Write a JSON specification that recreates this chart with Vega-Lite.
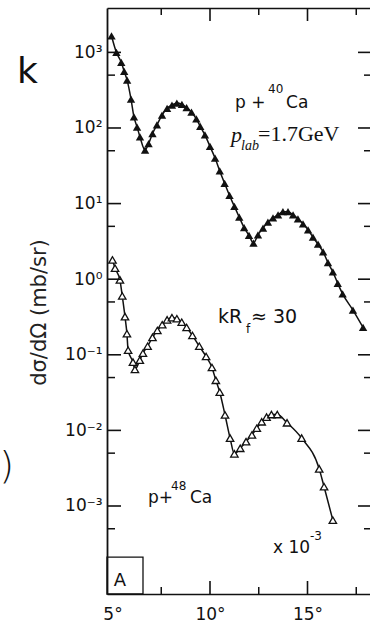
{
  "$schema": "https://vega.github.io/schema/vega-lite/v6.json",
  "width": 263,
  "height": 586,
  "autosize": "none",
  "padding": {"left": 107, "top": 8, "right": 0, "bottom": 31},
  "background": "white",
  "config": {"view": {"stroke": null}, "axis": {"grid": false}},
  "datasets": {
    "ca40": [
      {"angle": 4.95, "xs": 1650}, {"angle": 5.2, "xs": 1000}, {"angle": 5.45, "xs": 740}, {"angle": 5.6, "xs": 560},
      {"angle": 5.75, "xs": 430}, {"angle": 5.95, "xs": 240}, {"angle": 6.1, "xs": 140}, {"angle": 6.26, "xs": 103},
      {"angle": 6.41, "xs": 76}, {"angle": 6.67, "xs": 51}, {"angle": 6.85, "xs": 62}, {"angle": 7.05, "xs": 84},
      {"angle": 7.28, "xs": 110}, {"angle": 7.54, "xs": 148}, {"angle": 7.8, "xs": 182}, {"angle": 8.05, "xs": 200},
      {"angle": 8.3, "xs": 214}, {"angle": 8.56, "xs": 205}, {"angle": 8.8, "xs": 186}, {"angle": 9.05, "xs": 162},
      {"angle": 9.3, "xs": 132}, {"angle": 9.5, "xs": 105}, {"angle": 9.74, "xs": 81}, {"angle": 10.0, "xs": 57},
      {"angle": 10.26, "xs": 40}, {"angle": 10.5, "xs": 27}, {"angle": 10.75, "xs": 18.5}, {"angle": 11.0, "xs": 12.8},
      {"angle": 11.25, "xs": 9.2}, {"angle": 11.5, "xs": 6.6}, {"angle": 11.75, "xs": 4.8}, {"angle": 12.0, "xs": 3.8},
      {"angle": 12.23, "xs": 3.0}, {"angle": 12.46, "xs": 3.85}, {"angle": 12.72, "xs": 4.75}, {"angle": 12.97, "xs": 5.7},
      {"angle": 13.23, "xs": 6.45}, {"angle": 13.49, "xs": 7.1}, {"angle": 13.74, "xs": 7.8}, {"angle": 14.0, "xs": 7.8},
      {"angle": 14.26, "xs": 7.1}, {"angle": 14.51, "xs": 6.3}, {"angle": 14.77, "xs": 5.4}, {"angle": 15.03, "xs": 4.5},
      {"angle": 15.28, "xs": 3.6}, {"angle": 15.54, "xs": 2.9}, {"angle": 15.8, "xs": 2.3}, {"angle": 16.05, "xs": 1.65},
      {"angle": 16.3, "xs": 1.25}, {"angle": 16.55, "xs": 0.88}, {"angle": 16.8, "xs": 0.64}, {"angle": 17.33, "xs": 0.39},
      {"angle": 17.85, "xs": 0.23}
    ],
    "ca48": [
      {"angle": 5.0, "xs": 1.8}, {"angle": 5.13, "xs": 1.4}, {"angle": 5.38, "xs": 0.98}, {"angle": 5.5, "xs": 0.6},
      {"angle": 5.64, "xs": 0.32}, {"angle": 5.74, "xs": 0.19}, {"angle": 5.8, "xs": 0.115}, {"angle": 6.05, "xs": 0.08},
      {"angle": 6.15, "xs": 0.064}, {"angle": 6.4, "xs": 0.085}, {"angle": 6.56, "xs": 0.105}, {"angle": 6.8, "xs": 0.13},
      {"angle": 7.05, "xs": 0.17}, {"angle": 7.3, "xs": 0.21}, {"angle": 7.55, "xs": 0.25}, {"angle": 7.8, "xs": 0.29},
      {"angle": 8.05, "xs": 0.31}, {"angle": 8.3, "xs": 0.3}, {"angle": 8.55, "xs": 0.27}, {"angle": 8.8, "xs": 0.23},
      {"angle": 9.1, "xs": 0.18}, {"angle": 9.45, "xs": 0.13}, {"angle": 9.8, "xs": 0.095}, {"angle": 10.1, "xs": 0.068},
      {"angle": 10.3, "xs": 0.046}, {"angle": 10.5, "xs": 0.032}, {"angle": 10.77, "xs": 0.016}, {"angle": 11.03, "xs": 0.0079},
      {"angle": 11.25, "xs": 0.0049}, {"angle": 11.55, "xs": 0.0058}, {"angle": 11.85, "xs": 0.0071}, {"angle": 12.15, "xs": 0.0087},
      {"angle": 12.4, "xs": 0.0107}, {"angle": 12.65, "xs": 0.013}, {"angle": 12.9, "xs": 0.015}, {"angle": 13.15, "xs": 0.0162},
      {"angle": 13.45, "xs": 0.0162}, {"angle": 13.95, "xs": 0.0126}, {"angle": 14.7, "xs": 0.0079}, {"angle": 15.6, "xs": 0.0031},
      {"angle": 15.85, "xs": 0.0018}, {"angle": 16.3, "xs": 0.00065}
    ],
    "yticks": [
      {"v": 0.0005, "major": false}, {"v": 0.001, "major": true}, {"v": 0.005, "major": false}, {"v": 0.01, "major": true},
      {"v": 0.05, "major": false}, {"v": 0.1, "major": true}, {"v": 0.5, "major": false}, {"v": 1, "major": true},
      {"v": 5, "major": false}, {"v": 10, "major": true}, {"v": 50, "major": false}, {"v": 100, "major": true},
      {"v": 500, "major": false}, {"v": 1000, "major": true}
    ],
    "xticks": [
      {"v": 7.5, "major": false}, {"v": 10, "major": true}, {"v": 12.5, "major": false}, {"v": 15, "major": true}, {"v": 17.5, "major": false}
    ]
  },
  "resolve": {"axis": {"x": "independent", "y": "independent"}},
  "layer": [
    {
      "data": {"name": "ca40"},
      "mark": {"type": "line", "color": "#111", "strokeWidth": 1.5, "interpolate": "monotone"},
      "encoding": {
        "x": {"field": "angle", "type": "quantitative",
          "scale": {"domain": [4.718, 18.205], "nice": false, "zero": false},
          "axis": {"orient": "bottom", "values": [5, 10, 15], "labelExpr": "datum.value + '°'",
            "ticks": false, "domainColor": "#111", "domainWidth": 1.6,
            "labelFont": "DejaVu Sans", "labelFontSize": 17, "labelColor": "#111", "labelPadding": 12,
            "labelFlush": false, "labelOverlap": false, "title": null}},
        "y": {"field": "xs", "type": "quantitative",
          "scale": {"type": "log", "domain": [6.855e-5, 3864], "nice": false},
          "axis": {"orient": "left", "values": [0.001, 0.01, 0.1, 1, 10, 100, 1000],
            "labelExpr": "datum.value == 1000 ? '10³' : datum.value == 100 ? '10²' : datum.value == 10 ? '10¹' : datum.value == 1 ? '10⁰' : datum.value == 0.1 ? '10⁻¹' : datum.value == 0.01 ? '10⁻²' : '10⁻³'",
            "ticks": false, "domainColor": "#111", "domainWidth": 1.8,
            "labelFont": "DejaVu Sans", "labelFontSize": 17, "labelColor": "#111", "labelPadding": 5,
            "labelOverlap": false, "labelFlush": false,
            "title": "dσ/dΩ (mb/sr)", "titleFont": "DejaVu Sans", "titleFontSize": 21, "titleFontWeight": "normal",
            "titleColor": "#222", "titlePadding": 15, "titleY": 304}}
      }
    },
    {
      "data": {"name": "ca40"},
      "mark": {"type": "point", "shape": "triangle-up", "size": 70, "filled": true, "color": "#111", "opacity": 1},
      "encoding": {
        "x": {"field": "angle", "type": "quantitative", "scale": {"domain": [4.718, 18.205], "nice": false, "zero": false}, "axis": null},
        "y": {"field": "xs", "type": "quantitative", "scale": {"type": "log", "domain": [6.855e-5, 3864], "nice": false}, "axis": null}
      }
    },
    {
      "data": {"name": "ca48"},
      "mark": {"type": "line", "color": "#111", "strokeWidth": 1.5, "interpolate": "monotone"},
      "encoding": {
        "x": {"field": "angle", "type": "quantitative", "scale": {"domain": [4.718, 18.205], "nice": false, "zero": false},
          "axis": {"orient": "top", "ticks": false, "labels": false, "domain": true, "domainColor": "#111", "domainWidth": 1.5, "title": null}},
        "y": {"field": "xs", "type": "quantitative", "scale": {"type": "log", "domain": [6.855e-5, 3864], "nice": false}, "axis": null}
      }
    },
    {
      "data": {"name": "ca48"},
      "mark": {"type": "point", "shape": "triangle-up", "size": 55, "filled": true, "fill": "white", "stroke": "#111", "strokeWidth": 1.3, "opacity": 1},
      "encoding": {
        "x": {"field": "angle", "type": "quantitative", "scale": {"domain": [4.718, 18.205], "nice": false, "zero": false}, "axis": null},
        "y": {"field": "xs", "type": "quantitative", "scale": {"type": "log", "domain": [6.855e-5, 3864], "nice": false}, "axis": null}
      }
    },
    {
      "data": {"name": "yticks"},
      "transform": [{"filter": "datum.major"}],
      "mark": {"type": "rule", "color": "#111", "strokeWidth": 1.6},
      "encoding": {
        "y": {"field": "v", "type": "quantitative", "scale": {"type": "log", "domain": [6.855e-5, 3864], "nice": false}, "axis": null},
        "x": {"datum": 4.718, "type": "quantitative", "scale": {"domain": [4.718, 18.205], "nice": false, "zero": false}, "axis": null},
        "x2": {"datum": 5.436}
      }
    },
    {
      "data": {"name": "yticks"},
      "transform": [{"filter": "!datum.major"}],
      "mark": {"type": "rule", "color": "#111", "strokeWidth": 1.5},
      "encoding": {
        "y": {"field": "v", "type": "quantitative", "scale": {"type": "log", "domain": [6.855e-5, 3864], "nice": false}, "axis": null},
        "x": {"datum": 4.718, "type": "quantitative", "scale": {"domain": [4.718, 18.205], "nice": false, "zero": false}, "axis": null},
        "x2": {"datum": 5.128}
      }
    },
    {
      "data": {"name": "yticks"},
      "transform": [{"filter": "datum.major"}],
      "mark": {"type": "rule", "color": "#111", "strokeWidth": 1.6},
      "encoding": {
        "y": {"field": "v", "type": "quantitative", "scale": {"type": "log", "domain": [6.855e-5, 3864], "nice": false}, "axis": null},
        "x": {"datum": 18.205, "type": "quantitative", "scale": {"domain": [4.718, 18.205], "nice": false, "zero": false}, "axis": null},
        "x2": {"datum": 17.59}
      }
    },
    {
      "data": {"name": "yticks"},
      "transform": [{"filter": "!datum.major"}],
      "mark": {"type": "rule", "color": "#111", "strokeWidth": 1.5},
      "encoding": {
        "y": {"field": "v", "type": "quantitative", "scale": {"type": "log", "domain": [6.855e-5, 3864], "nice": false}, "axis": null},
        "x": {"datum": 18.205, "type": "quantitative", "scale": {"domain": [4.718, 18.205], "nice": false, "zero": false}, "axis": null},
        "x2": {"datum": 17.897}
      }
    },
    {
      "data": {"name": "xticks"},
      "transform": [{"filter": "datum.major"}],
      "mark": {"type": "rule", "color": "#111", "strokeWidth": 1.6},
      "encoding": {
        "x": {"field": "v", "type": "quantitative", "scale": {"domain": [4.718, 18.205], "nice": false, "zero": false}, "axis": null},
        "y": {"datum": 6.855e-5, "type": "quantitative", "scale": {"type": "log", "domain": [6.855e-5, 3864], "nice": false}, "axis": null},
        "y2": {"datum": 1.0189e-4}
      }
    },
    {
      "data": {"name": "xticks"},
      "transform": [{"filter": "!datum.major"}],
      "mark": {"type": "rule", "color": "#111", "strokeWidth": 1.5},
      "encoding": {
        "x": {"field": "v", "type": "quantitative", "scale": {"domain": [4.718, 18.205], "nice": false, "zero": false}, "axis": null},
        "y": {"datum": 6.855e-5, "type": "quantitative", "scale": {"type": "log", "domain": [6.855e-5, 3864], "nice": false}, "axis": null},
        "y2": {"datum": 8.485e-5}
      }
    },
    {
      "data": {"name": "xticks"},
      "transform": [{"filter": "datum.major"}],
      "mark": {"type": "rule", "color": "#111", "strokeWidth": 1.6},
      "encoding": {
        "x": {"field": "v", "type": "quantitative", "scale": {"domain": [4.718, 18.205], "nice": false, "zero": false}, "axis": null},
        "y": {"datum": 3864, "type": "quantitative", "scale": {"type": "log", "domain": [6.855e-5, 3864], "nice": false}, "axis": null},
        "y2": {"datum": 2600}
      }
    },
    {
      "data": {"name": "xticks"},
      "transform": [{"filter": "!datum.major"}],
      "mark": {"type": "rule", "color": "#111", "strokeWidth": 1.5},
      "encoding": {
        "x": {"field": "v", "type": "quantitative", "scale": {"domain": [4.718, 18.205], "nice": false, "zero": false}, "axis": null},
        "y": {"datum": 3864, "type": "quantitative", "scale": {"type": "log", "domain": [6.855e-5, 3864], "nice": false}, "axis": null},
        "y2": {"datum": 3122}
      }
    },
    {
      "data": {"values": [{"x1": 4.718, "x2": 6.564, "y1": 6.855e-5, "y2": 0.000211}]},
      "mark": {"type": "rect", "fill": null, "stroke": "#111", "strokeWidth": 1.3},
      "encoding": {
        "x": {"field": "x1", "type": "quantitative", "scale": {"domain": [4.718, 18.205], "nice": false, "zero": false}, "axis": null},
        "x2": {"field": "x2"},
        "y": {"field": "y1", "type": "quantitative", "scale": {"type": "log", "domain": [6.855e-5, 3864], "nice": false}, "axis": null},
        "y2": {"field": "y2"}
      }
    },
    {
      "data": {"values": [
        {"angle": 11.28, "xs": 184, "label": "p +"},
        {"angle": 13.898, "xs": 184, "label": "Ca"},
        {"angle": 6.821, "xs": 0.001095, "label": "p+"},
        {"angle": 8.974, "xs": 0.001095, "label": "Ca"},
        {"angle": 13.231, "xs": 0.0002388, "label": "x 10"}
      ]},
      "mark": {"type": "text", "font": "DejaVu Sans", "fontSize": 17, "align": "left", "baseline": "alphabetic", "color": "#111"},
      "encoding": {
        "x": {"field": "angle", "type": "quantitative", "scale": {"domain": [4.718, 18.205], "nice": false, "zero": false}, "axis": null},
        "y": {"field": "xs", "type": "quantitative", "scale": {"type": "log", "domain": [6.855e-5, 3864], "nice": false}, "axis": null},
        "text": {"field": "label"}
      }
    },
    {
      "data": {"values": [
        {"angle": 12.975, "xs": 290, "label": "40"},
        {"angle": 8.0, "xs": 0.001627, "label": "48"},
        {"angle": 15.13, "xs": 0.000355, "label": "-3"},
        {"angle": 11.846, "xs": 0.194, "label": "f"}
      ]},
      "mark": {"type": "text", "font": "DejaVu Sans", "fontSize": 12, "align": "left", "baseline": "alphabetic", "color": "#111"},
      "encoding": {
        "x": {"field": "angle", "type": "quantitative", "scale": {"domain": [4.718, 18.205], "nice": false, "zero": false}, "axis": null},
        "y": {"field": "xs", "type": "quantitative", "scale": {"type": "log", "domain": [6.855e-5, 3864], "nice": false}, "axis": null},
        "text": {"field": "label"}
      }
    },
    {
      "data": {"values": [
        {"angle": 10.41, "xs": 0.2632, "label": "kR"},
        {"angle": 12.1, "xs": 0.2632, "label": "≈ 30"}
      ]},
      "mark": {"type": "text", "font": "DejaVu Sans", "fontSize": 19, "align": "left", "baseline": "alphabetic", "color": "#111"},
      "encoding": {
        "x": {"field": "angle", "type": "quantitative", "scale": {"domain": [4.718, 18.205], "nice": false, "zero": false}, "axis": null},
        "y": {"field": "xs", "type": "quantitative", "scale": {"type": "log", "domain": [6.855e-5, 3864], "nice": false}, "axis": null},
        "text": {"field": "label"}
      }
    },
    {
      "data": {"values": [{"angle": 5.385, "xs": 8.74e-5, "label": "A"}]},
      "mark": {"type": "text", "font": "DejaVu Sans", "fontSize": 18, "align": "center", "baseline": "alphabetic", "color": "#111"},
      "encoding": {
        "x": {"field": "angle", "type": "quantitative", "scale": {"domain": [4.718, 18.205], "nice": false, "zero": false}, "axis": null},
        "y": {"field": "xs", "type": "quantitative", "scale": {"type": "log", "domain": [6.855e-5, 3864], "nice": false}, "axis": null},
        "text": {"field": "label"}
      }
    },
    {
      "data": {"values": [{"angle": 11.077, "xs": 65.3, "label": "p"}]},
      "mark": {"type": "text", "font": "Liberation Serif", "fontStyle": "italic", "fontSize": 22, "align": "left", "baseline": "alphabetic", "color": "#111"},
      "encoding": {
        "x": {"field": "angle", "type": "quantitative", "scale": {"domain": [4.718, 18.205], "nice": false, "zero": false}, "axis": null},
        "y": {"field": "xs", "type": "quantitative", "scale": {"type": "log", "domain": [6.855e-5, 3864], "nice": false}, "axis": null},
        "text": {"field": "label"}
      }
    },
    {
      "data": {"values": [{"angle": 11.59, "xs": 51.2, "label": "lab"}]},
      "mark": {"type": "text", "font": "Liberation Serif", "fontStyle": "italic", "fontSize": 14, "align": "left", "baseline": "alphabetic", "color": "#111"},
      "encoding": {
        "x": {"field": "angle", "type": "quantitative", "scale": {"domain": [4.718, 18.205], "nice": false, "zero": false}, "axis": null},
        "y": {"field": "xs", "type": "quantitative", "scale": {"type": "log", "domain": [6.855e-5, 3864], "nice": false}, "axis": null},
        "text": {"field": "label"}
      }
    },
    {
      "data": {"values": [{"angle": 12.462, "xs": 67.3, "label": "=1.7GeV"}]},
      "mark": {"type": "text", "font": "Liberation Serif", "fontSize": 22, "align": "left", "baseline": "alphabetic", "color": "#111"},
      "encoding": {
        "x": {"field": "angle", "type": "quantitative", "scale": {"domain": [4.718, 18.205], "nice": false, "zero": false}, "axis": null},
        "y": {"field": "xs", "type": "quantitative", "scale": {"type": "log", "domain": [6.855e-5, 3864], "nice": false}, "axis": null},
        "text": {"field": "label"}
      }
    },
    {
      "data": {"values": [{"angle": 0.103, "xs": 393.6, "label": "k"}]},
      "mark": {"type": "text", "font": "DejaVu Sans", "fontSize": 36, "align": "left", "baseline": "alphabetic", "color": "#111"},
      "encoding": {
        "x": {"field": "angle", "type": "quantitative", "scale": {"domain": [4.718, 18.205], "nice": false, "zero": false}, "axis": null},
        "y": {"field": "xs", "type": "quantitative", "scale": {"type": "log", "domain": [6.855e-5, 3864], "nice": false}, "axis": null},
        "text": {"field": "label"}
      }
    },
    {
      "data": {"values": [{"angle": -0.05, "xs": 0.002346, "label": ")"}]},
      "mark": {"type": "text", "font": "DejaVu Sans", "fontWeight": 200, "fontSize": 38, "align": "right", "baseline": "alphabetic", "color": "#111"},
      "encoding": {
        "x": {"field": "angle", "type": "quantitative", "scale": {"domain": [4.718, 18.205], "nice": false, "zero": false}, "axis": null},
        "y": {"field": "xs", "type": "quantitative", "scale": {"type": "log", "domain": [6.855e-5, 3864], "nice": false}, "axis": null},
        "text": {"field": "label"}
      }
    }
  ]
}
